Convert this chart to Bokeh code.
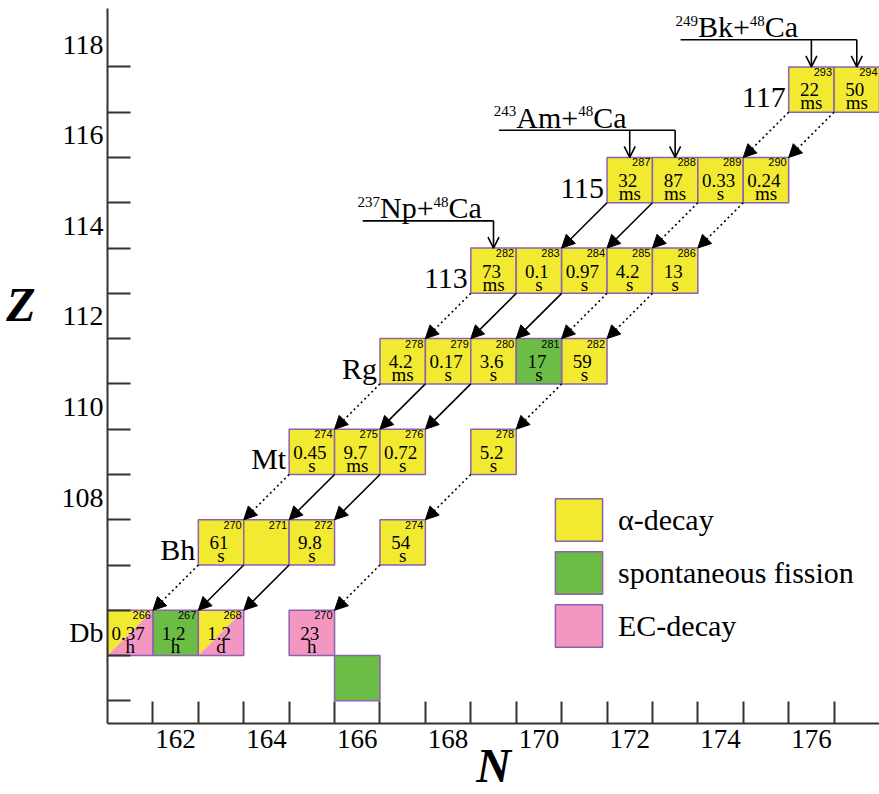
import numpy as np
import pandas as pd
from bokeh.plotting import figure
from bokeh.models import (ColumnDataSource, FixedTicker, Arrow, NormalHead, OpenHead,
                          Label, LabelSet, Legend, LegendItem, LinearAxis)
from bokeh.core.properties import value
from bokeh.embed import file_html
from bokeh.resources import INLINE

# ---------------- data ----------------
cell_Z = [117, 117,
          115, 115, 115, 115,
          113, 113, 113, 113, 113,
          111, 111, 111, 111, 111,
          109, 109, 109, 109,
          107, 107, 107, 107,
          105, 105, 105, 105,
          104]
cell_N = [176, 177,
          172, 173, 174, 175,
          169, 170, 171, 172, 173,
          167, 168, 169, 170, 171,
          165, 166, 167, 169,
          163, 164, 165, 167,
          161, 162, 163, 165,
          166]
cell_mass = ["293", "294",
             "287", "288", "289", "290",
             "282", "283", "284", "285", "286",
             "278", "279", "280", "281", "282",
             "274", "275", "276", "278",
             "270", "271", "272", "274",
             "266", "267", "268", "270",
             ""]
cell_value = ["22", "50",
              "32", "87", "0.33", "0.24",
              "73", "0.1", "0.97", "4.2", "13",
              "4.2", "0.17", "3.6", "17", "59",
              "0.45", "9.7", "0.72", "5.2",
              "61", "", "9.8", "54",
              "0.37", "1.2", "1.2", "23",
              ""]
cell_unit = ["ms", "ms",
             "ms", "ms", "s", "ms",
             "ms", "s", "s", "s", "s",
             "ms", "s", "s", "s", "s",
             "s", "ms", "s", "s",
             "s", "", "s", "s",
             "h", "h", "d", "h",
             ""]
cell_mode = ["a", "a",
             "a", "a", "a", "a",
             "a", "a", "a", "a", "a",
             "a", "a", "a", "sf", "a",
             "a", "a", "a", "a",
             "a", "a", "a", "a",
             "a/ec", "sf", "a/ec", "ec",
             "sf"]

# row labels drawn next to the rows (Db sits on the axis as a tick label)
row_Z = [117, 115, 113, 111, 109, 107]
row_label = ["117", "115", "113", "Rg", "Mt", "Bh"]
axis_row_Z = 105
axis_row_label = "Db"

# decay chains as (Z, N)
solid_chains = [
    [(115, 172), (113, 170), (111, 168), (109, 166), (107, 164), (105, 162)],
    [(115, 173), (113, 171), (111, 169), (109, 167), (107, 165), (105, 163)],
]
dotted_chains = [
    [(117, 176), (115, 174), (113, 172), (111, 170)],
    [(117, 177), (115, 175), (113, 173), (111, 171), (109, 169), (107, 167), (105, 165)],
    [(113, 169), (111, 167), (109, 165), (107, 163), (105, 161)],
]

reaction_target_mass = ["237", "243", "249"]
reaction_target = ["Np+", "Am+", "Bk+"]
reaction_beam_mass = ["48", "48", "48"]
reaction_beam = ["Ca", "Ca", "Ca"]
reaction_Z = [113, 115, 117]
reaction_N = [[169], [172, 173], [176, 177]]

x_tick_labels = [162, 164, 166, 168, 170, 172, 174, 176]
y_tick_labels = [108, 110, 112, 114, 116, 118]

legend_labels = ["α-decay", "spontaneous fission", "EC-decay"]

# ---------------- style ----------------
YELLOW = "#f2ea30"
GREEN = "#6cbd45"
PINK = "#f397c0"
BORDER = "#8a62b0"
SERIF = "Liberation Serif"
SANS = "Liberation Sans"

df = pd.DataFrame(dict(Z=cell_Z, N=cell_N, mass=cell_mass, val=cell_value,
                       unit=cell_unit, mode=cell_mode))
df["left"] = df.N - 0.5
df["right"] = df.N + 0.5
df["bottom"] = df.Z - 0.5
df["top"] = df.Z + 0.5

p = figure(width=879, height=794, x_range=(160.5, 177.5), y_range=(103.0, 118.79),
           output_backend="svg", toolbar_location=None,
           min_border_left=107, min_border_right=0, min_border_top=8, min_border_bottom=71)
p.outline_line_color = None
p.grid.visible = False
p.background_fill_color = "white"

# axes
p.xaxis.ticker = FixedTicker(ticks=x_tick_labels,
                             minor_ticks=list(np.arange(161.5, 177.0, 1.0)))
p.yaxis.ticker = FixedTicker(ticks=[axis_row_Z] + y_tick_labels,
                             minor_ticks=list(np.arange(103.5, 118.0, 1.0)))
p.yaxis.major_label_overrides = {axis_row_Z: axis_row_label}
for ax in (p.xaxis[0], p.yaxis[0]):
    ax.axis_line_width = 2
    ax.axis_line_color = "#333333"
    ax.major_tick_in = 0
    ax.major_tick_out = 0
    ax.minor_tick_out = 0
    ax.minor_tick_line_width = 2
    ax.minor_tick_line_color = "#333333"
    ax.major_label_text_font = SERIF
    ax.major_label_text_color = "black"
p.xaxis.minor_tick_in = 22
p.yaxis.minor_tick_in = 23
p.xaxis.major_label_text_font_size = "27px"
p.yaxis.major_label_text_font_size = "28px"
p.xaxis.major_label_standoff = 6
p.yaxis.major_label_standoff = 4

# axis titles
p.xaxis.axis_label = "N"
p.xaxis.axis_label_text_font = SERIF
p.xaxis.axis_label_text_font_style = "bold italic"
p.xaxis.axis_label_text_font_size = "48px"
p.xaxis.axis_label_text_color = "black"
p.xaxis.axis_label_text_line_height = 0.75
p.xaxis.axis_label_standoff = -12

z_axis = LinearAxis(ticker=FixedTicker(ticks=[112.25], minor_ticks=[]),
                    major_label_overrides={112.25: "Z"},
                    axis_line_color=None, major_tick_line_color=None,
                    minor_tick_line_color=None, major_label_standoff=17,
                    major_label_text_font=SERIF, major_label_text_font_style="bold italic",
                    major_label_text_font_size="48px", major_label_text_color="black")
p.add_layout(z_axis, "left")

# cells
sub = {m: ColumnDataSource(df[df["mode"] == m]) for m in ["a", "sf", "ec"]}
r_a = p.quad(left="left", right="right", bottom="bottom", top="top", source=sub["a"],
             fill_color=YELLOW, line_color=BORDER, line_width=1.5)
r_sf = p.quad(left="left", right="right", bottom="bottom", top="top", source=sub["sf"],
              fill_color=GREEN, line_color=BORDER, line_width=1.5)
r_ec = p.quad(left="left", right="right", bottom="bottom", top="top", source=sub["ec"],
              fill_color=PINK, line_color=BORDER, line_width=1.5)

split = df[df["mode"] == "a/ec"]
ya_x = [[l, l, r] for l, r in zip(split.left, split.right)]
ya_y = [[b, t, t] for b, t in zip(split.bottom, split.top)]
pe_x = [[l, r, r] for l, r in zip(split.left, split.right)]
pe_y = [[b, b, t] for b, t in zip(split.bottom, split.top)]
p.patches(ya_x, ya_y, fill_color=YELLOW, line_color=None)
p.patches(pe_x, pe_y, fill_color=PINK, line_color=None)
p.quad(left=split.left, right=split.right, bottom=split.bottom, top=split.top,
       fill_color=None, line_color=BORDER, line_width=1.5)

# cell texts
src_all = ColumnDataSource(df)
p.text(x="right", y="top", text="mass", source=src_all, x_offset=-2, y_offset=1,
       text_align="right", text_baseline="top", text_font=value(SANS),
       text_font_size="11px", text_color="black")
p.text(x="N", y="top", text="val", source=src_all, x_offset=-2, y_offset=23,
       text_align="center", text_baseline="alphabetic", text_font=value(SERIF),
       text_font_size="19px", text_color="black")
p.text(x="N", y="top", text="unit", source=src_all, x_offset=0, y_offset=36,
       text_align="center", text_baseline="alphabetic", text_font=value(SERIF),
       text_font_size="19px", text_color="black")

# decay arrows
def segs(chains):
    d = dict(x0=[], y0=[], x1=[], y1=[])
    for ch in chains:
        for (z0, n0), (z1, n1) in zip(ch[:-1], ch[1:]):
            d["x0"].append(n0 - 0.5)
            d["y0"].append(z0 - 0.5)
            d["x1"].append(n1 + 0.5)
            d["y1"].append(z1 + 0.5)
    return ColumnDataSource(d)

p.add_layout(Arrow(end=NormalHead(size=13, fill_color="black", line_color="black", line_width=1),
                   x_start="x0", y_start="y0", x_end="x1", y_end="y1",
                   source=segs(solid_chains), line_width=1.6, line_color="black"))
p.add_layout(Arrow(end=NormalHead(size=13, fill_color="black", line_color="black", line_width=1),
                   x_start="x0", y_start="y0", x_end="x1", y_end="y1",
                   source=segs(dotted_chains), line_width=1.6, line_color="black",
                   line_dash="2 3"))

# reactions
char_w = {"N": .722, "p": .5, "+": .564, "A": .722, "m": .778, "B": .667, "k": .5,
          "C": .667, "a": .444}
F, f = 30, 15
for tm, tg, bm, bm_name, zt, ns in zip(reaction_target_mass, reaction_target,
                                       reaction_beam_mass, reaction_beam,
                                       reaction_Z, reaction_N):
    ly = zt + 1.1
    p.segment(x0=[ns[0] - 2.88], y0=[ly], x1=[ns[-1]], y1=[ly],
              line_color="black", line_width=1.6)
    for n in ns:
        p.add_layout(Arrow(end=OpenHead(size=11, line_width=1.6, line_color="black"),
                           x_start=n, y_start=ly, x_end=n, y_end=zt + 0.5,
                           line_width=1.6, line_color="black"))
    off = -136
    pieces = [(tm, f, 19), (tg, F, 13), (bm, f, 19), (bm_name, F, 13)]
    for txt, size, yo in pieces:
        p.add_layout(Label(x=ns[0], y=ly, x_offset=off, y_offset=yo, text=txt,
                           text_font=SERIF, text_font_size=f"{size}px",
                           text_align="left", text_baseline="alphabetic",
                           text_color="black"))
        off += sum(char_w.get(c, 0.5) for c in txt) * size

# row labels
first_N = [df[df.Z == z].N.min() for z in row_Z]
rows = ColumnDataSource(dict(x=[n - 0.5 for n in first_N], y=[z - 0.5 for z in row_Z],
                             t=row_label))
p.add_layout(LabelSet(x="x", y="y", text="t", source=rows, x_offset=-3, y_offset=5,
                      text_align="right", text_baseline="alphabetic",
                      text_font=value(SERIF), text_font_size="30px", text_color="black"))

# legend
legend = Legend(items=[LegendItem(label=legend_labels[0], renderers=[r_a]),
                       LegendItem(label=legend_labels[1], renderers=[r_sf]),
                       LegendItem(label=legend_labels[2], renderers=[r_ec])],
                location=(442, 71), glyph_width=59, glyph_height=53, spacing=0,
                label_standoff=10, padding=0, margin=0, border_line_color=None,
                background_fill_alpha=0, label_text_font=SERIF,
                label_text_font_size="30px", label_text_color="black")
p.add_layout(legend)

open("out.html", "w").write(file_html(p, INLINE))
